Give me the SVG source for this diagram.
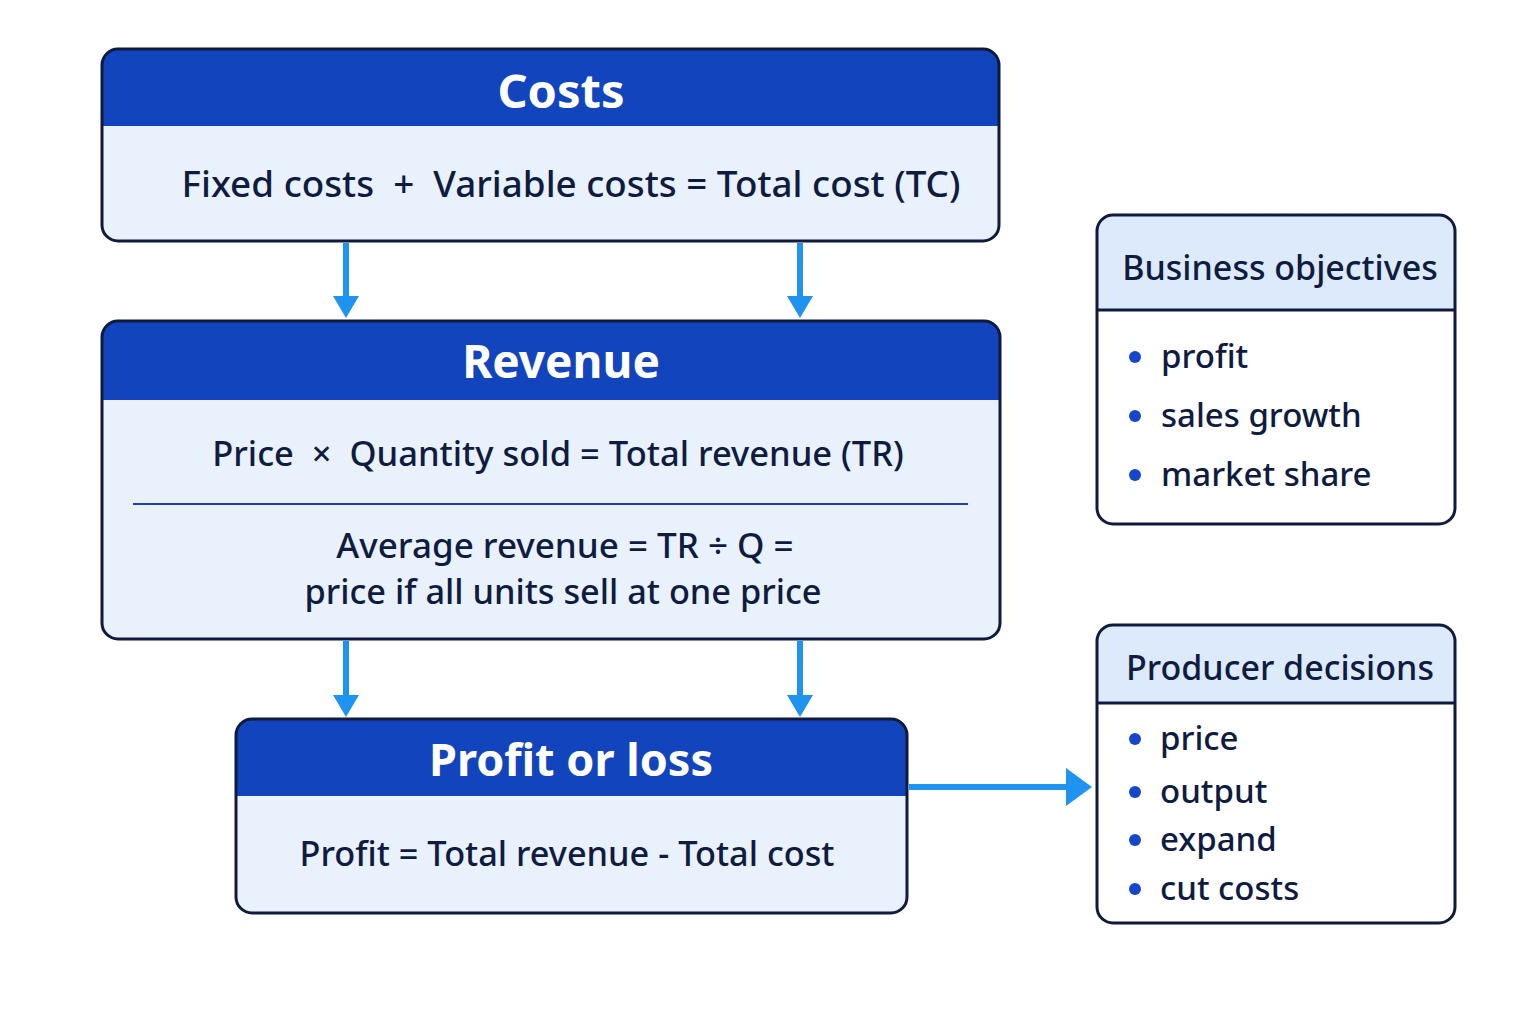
<svg xmlns="http://www.w3.org/2000/svg" width="1536" height="1024" viewBox="0 0 1536 1024">
<defs>
<style>
text{white-space:pre}
.body{fill:#e9f1fc}
.hdr{fill:#1245bd}
.lhdr{fill:#dceafb}
.wbody{fill:#ffffff}
.out{fill:none;stroke:#0f1a3c;stroke-width:3}
.ttl{font-family:"Noto Sans","Liberation Sans",sans-serif;font-weight:700;fill:#ffffff;text-anchor:middle}
.txt{font-family:"Noto Sans","Liberation Sans",sans-serif;fill:#0f1c3f;text-anchor:middle;font-weight:500}
.side{font-family:"Noto Sans","Liberation Sans",sans-serif;fill:#0f1c3f;font-weight:500}
.dot{fill:#1746c8}
.conn{stroke:#1e93f0;stroke-width:6;fill:none}
.head{fill:#1e93f0}
</style>
</defs>
<rect width="1536" height="1024" fill="#ffffff"/>

<g id="costs">
<rect class="body" x="102" y="49" width="897" height="192" rx="16"/>
<path class="hdr" d="M118,49 H983 A16,16 0 0 1 999,65 V126 H102 V65 A16,16 0 0 1 118,49 Z"/>
<rect class="out" x="102" y="49" width="897" height="192" rx="16"/>
<text class="ttl" x="561" y="108" font-size="47">Costs</text>
<text class="txt" x="571" y="197" font-size="36.8">Fixed costs  +  Variable costs = Total cost (TC)</text>
</g>

<g id="revenue">
<rect class="body" x="102" y="321" width="898" height="318" rx="16"/>
<path class="hdr" d="M118,321 H984 A16,16 0 0 1 1000,337 V400 H102 V337 A16,16 0 0 1 118,321 Z"/>
<rect class="out" x="102" y="321" width="898" height="318" rx="16"/>
<text class="ttl" x="561" y="378" font-size="46">Revenue</text>
<text class="txt" x="558" y="466" font-size="34.5">Price  ×  Quantity sold = Total revenue (TR)</text>
<line x1="133" y1="504" x2="968" y2="504" stroke="#1f3fb8" stroke-width="2"/>
<text class="txt" x="565" y="558" font-size="35">Average revenue = TR ÷ Q =</text>
<text class="txt" x="563" y="604" font-size="34.3">price if all units sell at one price</text>
</g>

<g id="profit">
<rect class="body" x="236" y="719" width="671" height="194" rx="16"/>
<path class="hdr" d="M252,719 H891 A16,16 0 0 1 907,735 V796 H236 V735 A16,16 0 0 1 252,719 Z"/>
<rect class="out" x="236" y="719" width="671" height="194" rx="16"/>
<text class="ttl" x="571" y="776" font-size="45">Profit or loss</text>
<text class="txt" x="567" y="866" font-size="34.3">Profit = Total revenue - Total cost</text>
</g>

<g id="objectives">
<rect class="wbody" x="1097" y="215" width="358" height="309" rx="16"/>
<path class="lhdr" d="M1113,215 H1439 A16,16 0 0 1 1455,231 V310 H1097 V231 A16,16 0 0 1 1113,215 Z"/>
<line x1="1097" y1="310" x2="1455" y2="310" stroke="#0f1a3c" stroke-width="3"/>
<rect class="out" x="1097" y="215" width="358" height="309" rx="16"/>
<text class="side" x="1280" y="280" font-size="34" text-anchor="middle">Business objectives</text>
<circle class="dot" cx="1135" cy="357" r="6"/>
<text class="side" x="1161" y="368" font-size="33">profit</text>
<circle class="dot" cx="1135" cy="416" r="6"/>
<text class="side" x="1161" y="427" font-size="33">sales growth</text>
<circle class="dot" cx="1135" cy="475" r="6"/>
<text class="side" x="1161" y="486" font-size="33">market share</text>
</g>

<g id="decisions">
<rect class="wbody" x="1097" y="625" width="358" height="298" rx="16"/>
<path class="lhdr" d="M1113,625 H1439 A16,16 0 0 1 1455,641 V703 H1097 V641 A16,16 0 0 1 1113,625 Z"/>
<line x1="1097" y1="703" x2="1455" y2="703" stroke="#0f1a3c" stroke-width="3"/>
<rect class="out" x="1097" y="625" width="358" height="298" rx="16"/>
<text class="side" x="1280" y="680" font-size="34" text-anchor="middle">Producer decisions</text>
<circle class="dot" cx="1135" cy="739" r="6"/>
<text class="side" x="1160" y="750" font-size="33">price</text>
<circle class="dot" cx="1135" cy="792" r="6"/>
<text class="side" x="1160" y="803" font-size="33">output</text>
<circle class="dot" cx="1135" cy="840" r="6"/>
<text class="side" x="1160" y="851" font-size="33">expand</text>
<circle class="dot" cx="1135" cy="889" r="6"/>
<text class="side" x="1160" y="900" font-size="33">cut costs</text>
</g>

<g id="connectors">
<line class="conn" x1="346" y1="243" x2="346" y2="298"/>
<polygon class="head" points="333,296 359,296 346,318"/>
<line class="conn" x1="800" y1="243" x2="800" y2="298"/>
<polygon class="head" points="787,296 813,296 800,318"/>
<line class="conn" x1="346" y1="641" x2="346" y2="697"/>
<polygon class="head" points="333,695 359,695 346,717"/>
<line class="conn" x1="800" y1="641" x2="800" y2="697"/>
<polygon class="head" points="787,695 813,695 800,717"/>
<line class="conn" x1="909" y1="787" x2="1070" y2="787"/>
<polygon class="head" points="1066,768 1066,806 1092,787"/>
</g>
</svg>
